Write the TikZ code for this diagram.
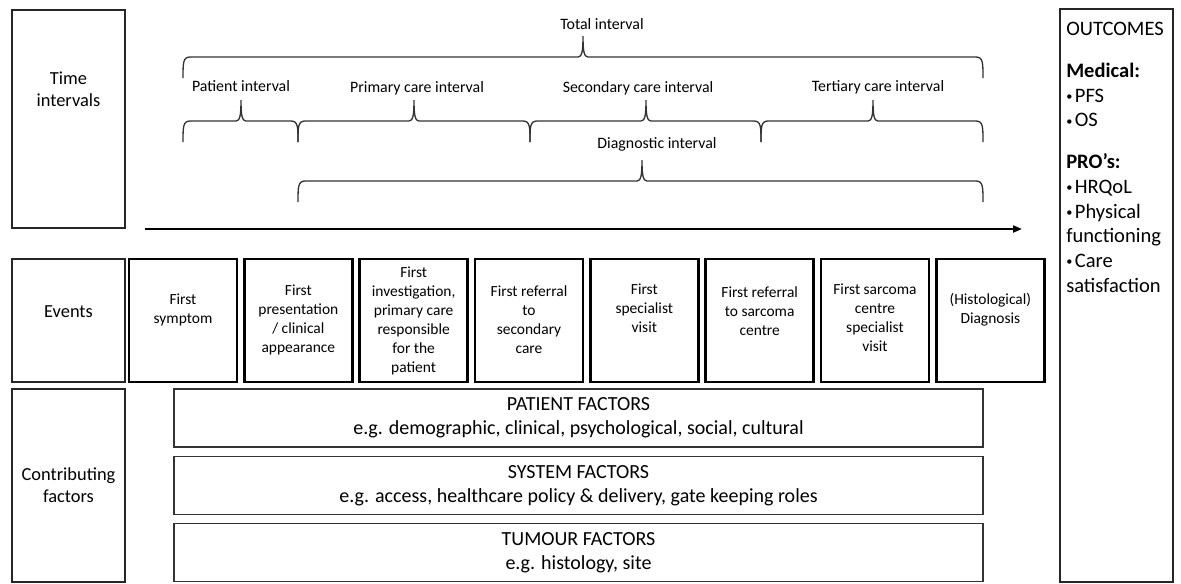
\documentclass[tikz,border=0pt]{standalone}
\usepackage{fontspec}
\setmainfont{Carlito}
\usetikzlibrary{positioning,arrows.meta}

% interval brace: left x, tip x, right x, bar y
\newcommand\ivbrace[4]{%
  \draw[ivline] (#1,#4+21) .. controls (#1,#4+6) and (#1,#4) .. (#1+7,#4) -- (#2-5,#4)
    .. controls (#2-1,#4) and (#2,#4-6) .. (#2,#4-21)
    .. controls (#2,#4-6) and (#2+1,#4) .. (#2+5,#4) -- (#3-7,#4)
    .. controls (#3,#4) and (#3,#4+6) .. (#3,#4+21);}
% small bullet of the outcome list
\newcommand\smbul{\makebox[0.42em][l]{\raisebox{1.2pt}{\scalebox{0.6}{•}}}}

\begin{document}
\begin{tikzpicture}[x=0.75pt, y=-0.75pt,
  frame/.style={rectangle, draw=black!85, line width=0.8pt, inner sep=0pt, outer sep=0pt},
  sidetext/.style={align=center, inner sep=0pt, font=\fontsize{13.8}{16.5}\selectfont},
  outtext/.style={align=left, inner sep=0pt, font=\fontsize{15.4}{18.5}\selectfont},
  evbox/.style={rectangle, draw, line width=1.8pt, minimum width=81pt, minimum height=92.25pt, inner sep=0pt, outer sep=0pt},
  evtext/.style={align=center, inner sep=0pt, font=\fontsize{11.6}{14.25}\selectfont},
  ivlabel/.style={anchor=base, inner sep=0pt, font=\fontsize{11.9}{14}\selectfont},
  ivline/.style={draw=black!80, line width=1pt},
  factor/.style={rectangle, draw=black!80, line width=1pt, minimum width=606.75pt, minimum height=43.5pt, inner sep=0pt, outer sep=0pt, align=center, font=\fontsize{15}{18}\selectfont},
  timeline/.style={line width=1.5pt, -{Triangle[length=6.75pt, width=5.25pt]}}]
\useasboundingbox (0,0) rectangle (1181,583);

% row labels and outcomes
\node[frame, minimum width=84.75pt, minimum height=163.5pt] (time) at (68.5,119) {};
\node[sidetext] (timetxt) at (68.5,89.5) {Time\\intervals};
\node[frame, minimum width=84.75pt, minimum height=92.25pt] (events) at (68.5,320.5) {};
\node[sidetext, yshift=7pt] (eventstxt) at (events) {Events};
\node[frame, sidetext, minimum width=84.75pt, minimum height=144.75pt] (contrib) at (68.5,485.5) {Contributing\\factors};
\node[frame, minimum width=84.75pt, minimum height=429.75pt] (outcomes) at (1116.5,295.5) {};
\node[outtext, anchor=north west] (outtxt) at (1066,22) {OUTCOMES\\[13pt]\textbf{Medical:}\\\smbul PFS\\\smbul OS\\[13pt]\textbf{PRO’s:}\\\smbul HRQoL\\\smbul Physical\\functioning\\\smbul Care\\satisfaction};

% intervals
\ivbrace{183}{583}{983}{57}
\ivbrace{183}{241}{298}{121}
\ivbrace{298}{414}{530}{121}
\ivbrace{530}{646}{761}{121}
\ivbrace{761}{873}{983}{121}
\ivbrace{298}{642}{983}{181}
\node[ivlabel] (total) at (602,29) {Total interval};
\node[ivlabel] (patientiv) at (241,91) {Patient interval};
\node[ivlabel] (primaryiv) at (417,92) {Primary care interval};
\node[ivlabel] (secondaryiv) at (638,92) {Secondary care interval};
\node[ivlabel] (tertiaryiv) at (878,91) {Tertiary care interval};
\node[ivlabel] (diagnosticiv) at (657,148) {Diagnostic interval};

% time axis
\coordinate (t0) at (145,229);
\coordinate (t1) at (1022,229);
\draw[timeline] (t0) -- (t1);

% events
\node[evbox] (ev1) at (183,320.5) {};
\foreach \i [count=\j] in {2,...,8}
  \node[evbox, right=5.5pt of ev\j] (ev\i) {};
\foreach \i/\up/\txt in {1/8.25pt/{First\\symptom},
    2/0.75pt/{First\\presentation\\/ clinical\\appearance},
    3/0pt/{First\\investigation,\\primary care\\responsible\\for the\\patient},
    4/0.75pt/{First referral\\to\\secondary\\care},
    5/9.4pt/{First\\specialist\\visit},
    6/7.1pt/{First referral\\to sarcoma\\centre},
    7/2.25pt/{First sarcoma\\centre\\specialist\\visit},
    8/7.9pt/{(Histological)\\Diagnosis}}
  \node[evtext, yshift=\up] (evt\i) at (ev\i) {\txt};

% contributing factors
\node[factor] (patient) at (578.5,418) {PATIENT FACTORS\\e.g. demographic, clinical, psychological, social, cultural};
\node[factor, below=7pt of patient] (system) {SYSTEM FACTORS\\e.g. access, healthcare policy \& delivery, gate keeping roles};
\node[factor, below=6.75pt of system] (tumour) {TUMOUR FACTORS\\e.g. histology, site};
\end{tikzpicture}
\end{document}
